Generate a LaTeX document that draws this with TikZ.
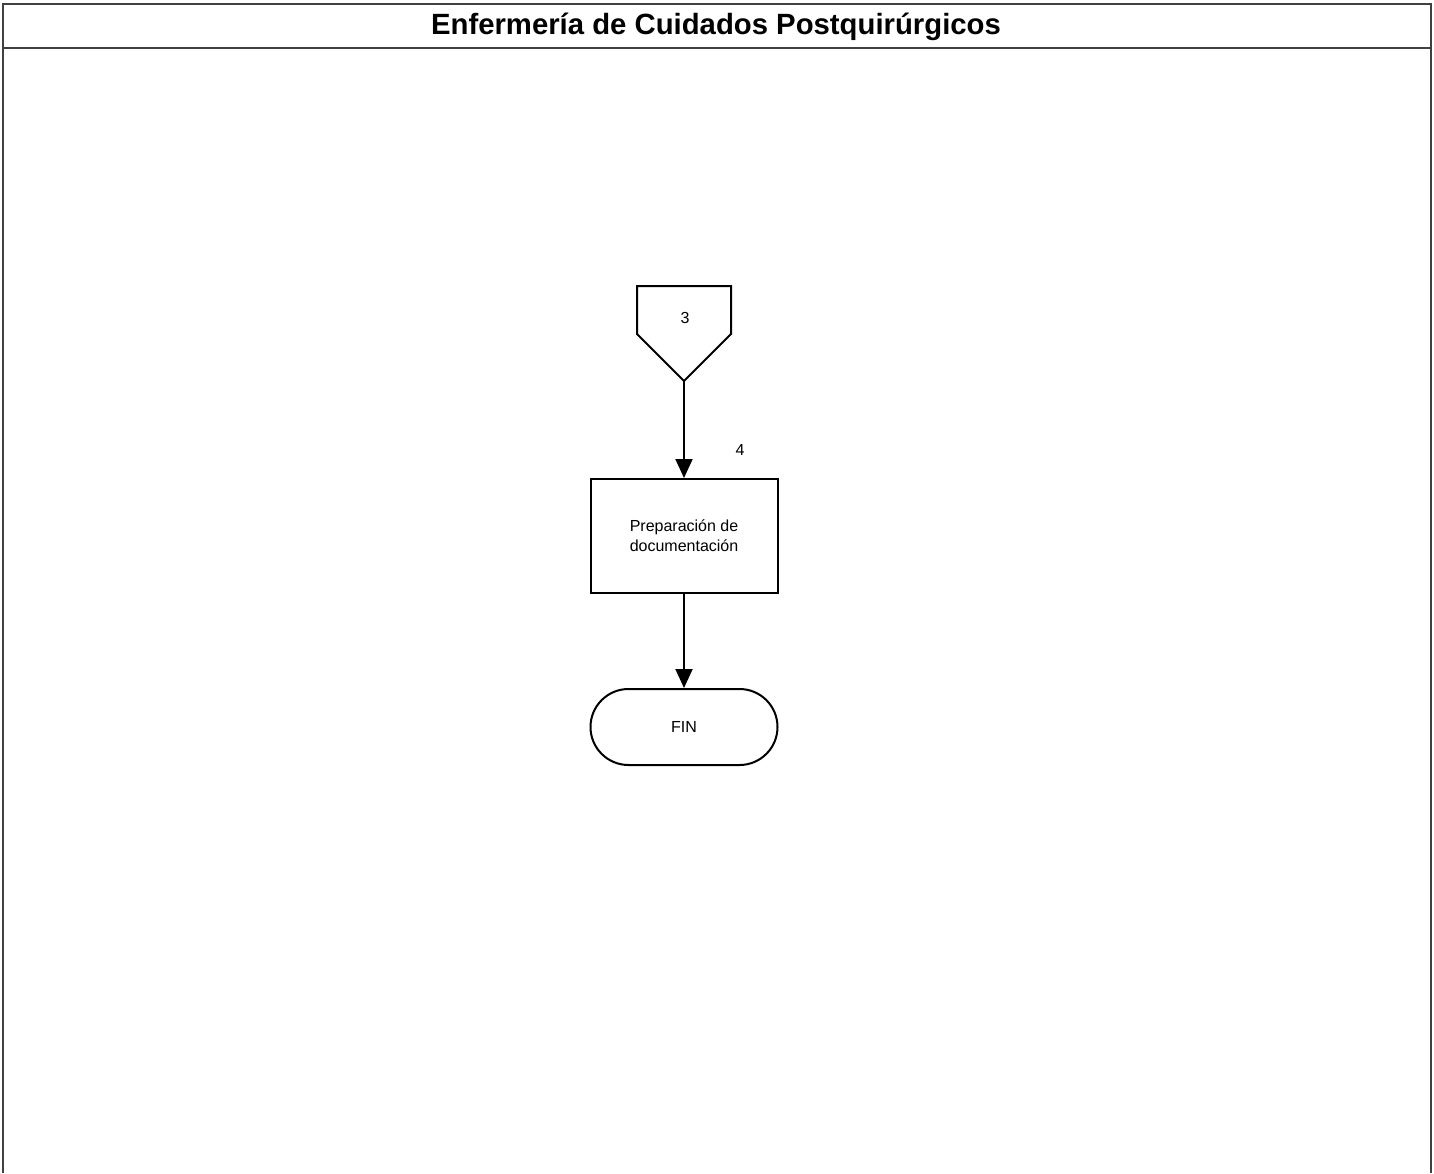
\documentclass[tikz,border=0pt]{standalone}
\usepackage{fontspec}
\setmainfont{Liberation Sans}
\usetikzlibrary{arrows.meta}
\begin{document}
\begin{tikzpicture}[x=1pt,y=-1pt,
  frameline/.style={draw=black!75,line width=1.4pt},
  shapeline/.style={draw=black,line width=2pt},
  procbox/.style={shapeline,minimum width=187pt,minimum height=114pt,inner sep=0pt,align=center,font=\fontsize{16}{20}\selectfont},
  termbox/.style={shapeline,rounded corners=38pt,minimum width=187pt,minimum height=76pt,inner sep=0pt,font=\fontsize{16}{20}\selectfont},
  flow/.style={draw=black,line width=2pt,-{Triangle[width=17pt,length=19pt]}},
  smalltxt/.style={font=\fontsize{16}{18}\selectfont,inner sep=0pt}]
\useasboundingbox (0,0) rectangle (1434,1173);
\fill[white] (0,0) rectangle (1434,1173);
% frame
\draw[frameline] (3,1173) -- (3,4) -- (1431,4) -- (1431,1173);
\draw[frameline] (3,48) -- (1431,48);
\node[font=\fontsize{29.3}{34}\selectfont\bfseries,inner sep=0pt] (title) at (716,27) {Enfermería de Cuidados Postquirúrgicos};
% off-page connector
\coordinate (conapex) at (684,381);
\draw[shapeline,line join=miter] (637,286) -- (731,286) -- (731,334) -- (conapex) -- (637,334) -- cycle;
\node[smalltxt] (con) at (685,318) {3};
% process
\node[procbox] (prep) at (684,536) {Preparación de\\documentación};
\node[smalltxt] (num4) at (740,450) {4};
% terminator
\node[termbox] (fin) at (684,727) {FIN};
% connectors
\draw[flow] (conapex) -- (prep.north);
\draw[flow] (prep.south) -- (fin.north);
\end{tikzpicture}
\end{document}
